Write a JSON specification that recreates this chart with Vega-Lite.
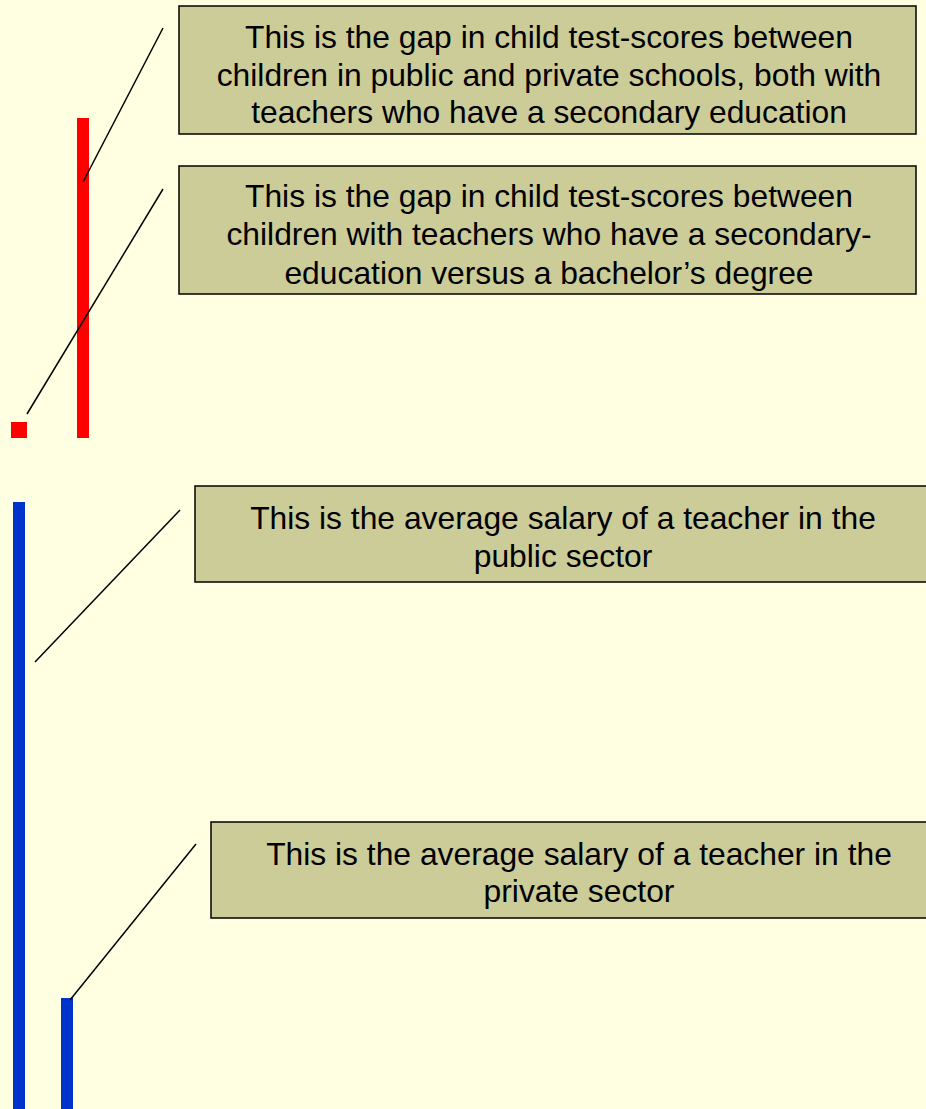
{
  "$schema": "https://vega.github.io/schema/vega-lite/v6.json",
  "width": 926,
  "height": 1109,
  "padding": 0,
  "autosize": {"type": "none"},
  "background": "#FFFFE1",
  "config": {"view": {"stroke": null}},
  "datasets": {
    "bars": [
      {"group": "test-score gap", "left": 11, "right": 27, "top": 422, "bottom": 438},
      {"group": "test-score gap", "left": 77, "right": 89, "top": 118, "bottom": 438},
      {"group": "salary", "left": 13, "right": 25, "top": 502, "bottom": 1109},
      {"group": "salary", "left": 61, "right": 73, "top": 998, "bottom": 1109}
    ],
    "boxes": [
      {"left": 179, "right": 916, "top": 6, "bottom": 134},
      {"left": 179, "right": 916, "top": 166, "bottom": 294},
      {"left": 195, "right": 932, "top": 486, "bottom": 582},
      {"left": 211, "right": 932, "top": 822, "bottom": 918}
    ],
    "connectors": [
      {"x1": 163, "y1": 28, "x2": 83, "y2": 182},
      {"x1": 163, "y1": 189, "x2": 27, "y2": 414},
      {"x1": 180, "y1": 510, "x2": 35, "y2": 662},
      {"x1": 196, "y1": 844, "x2": 70, "y2": 1000}
    ],
    "labels": [
      {"cx": 549, "cy": 48, "text": "This is the gap in child test-scores between"},
      {"cx": 549, "cy": 86, "text": "children in public and private schools, both with"},
      {"cx": 549, "cy": 123, "text": "teachers who have a secondary education"},
      {"cx": 549, "cy": 207, "text": "This is the gap in child test-scores between"},
      {"cx": 549, "cy": 245, "text": "children with teachers who have a secondary-"},
      {"cx": 549, "cy": 284, "text": "education versus a bachelor’s degree"},
      {"cx": 563, "cy": 529, "text": "This is the average salary of a teacher in the"},
      {"cx": 563, "cy": 567, "text": "public sector"},
      {"cx": 579, "cy": 865, "text": "This is the average salary of a teacher in the"},
      {"cx": 579, "cy": 902, "text": "private sector"}
    ]
  },
  "layer": [
    {
      "data": {"name": "boxes"},
      "mark": {"type": "rect", "fill": "#CCCC99", "stroke": "#000000", "strokeWidth": 1.5},
      "encoding": {
        "x": {"field": "left", "type": "quantitative", "scale": {"domain": [0, 926], "nice": false, "zero": false}, "axis": null},
        "x2": {"field": "right"},
        "y": {"field": "top", "type": "quantitative", "scale": {"domain": [0, 1109], "nice": false, "zero": false, "reverse": true}, "axis": null},
        "y2": {"field": "bottom"}
      }
    },
    {
      "data": {"name": "bars"},
      "mark": {"type": "rect"},
      "encoding": {
        "x": {"field": "left", "type": "quantitative", "axis": null},
        "x2": {"field": "right"},
        "y": {"field": "top", "type": "quantitative", "axis": null},
        "y2": {"field": "bottom"},
        "color": {"field": "group", "type": "nominal", "scale": {"domain": ["test-score gap", "salary"], "range": ["#FF0000", "#0033CC"]}, "legend": null}
      }
    },
    {
      "data": {"name": "connectors"},
      "mark": {"type": "rule", "color": "#000000", "strokeWidth": 1.5},
      "encoding": {
        "x": {"field": "x1", "type": "quantitative", "axis": null},
        "y": {"field": "y1", "type": "quantitative", "axis": null},
        "x2": {"field": "x2"},
        "y2": {"field": "y2"}
      }
    },
    {
      "data": {"name": "labels"},
      "mark": {"type": "text", "font": "Liberation Sans", "fontSize": 31.8, "align": "center", "baseline": "alphabetic", "color": "#000000"},
      "encoding": {
        "x": {"field": "cx", "type": "quantitative", "axis": null},
        "y": {"field": "cy", "type": "quantitative", "axis": null},
        "text": {"field": "text"}
      }
    }
  ]
}
